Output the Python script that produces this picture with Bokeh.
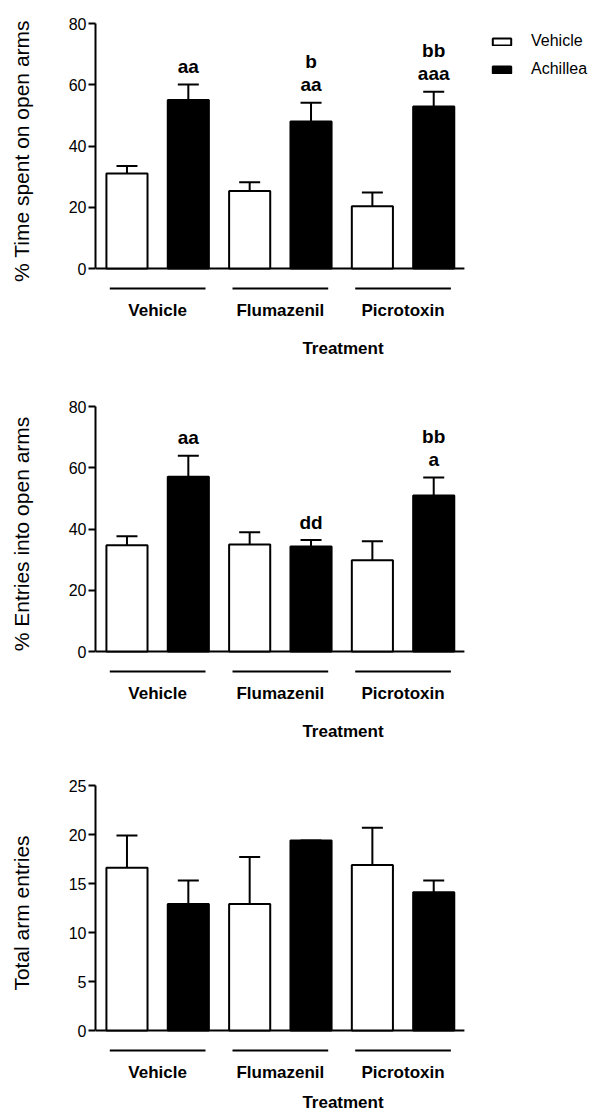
from bokeh.plotting import figure
from bokeh.models import ColumnDataSource, FixedTicker, Whisker, TeeHead, Range1d
from bokeh.layouts import column
from bokeh.embed import file_html
from bokeh.resources import INLINE
from bokeh.core.properties import value

# ---------------- data ----------------
groups = ["Vehicle", "Flumazenil", "Picrotoxin"]
series = ["Vehicle", "Achillea"]
x_title = "Treatment"

time_title = "% Time spent on open arms"
time_vehicle = [31.0, 25.3, 20.3]
time_vehicle_sem = [2.5, 2.9, 4.5]
time_achillea = [55.0, 48.0, 52.9]
time_achillea_sem = [5.1, 6.1, 4.8]
time_marks = [["aa"], ["aa", "b"], ["aaa", "bb"]]
time_ticks = [0, 20, 40, 60, 80]

entries_title = "% Entries into open arms"
entries_vehicle = [34.7, 34.9, 29.8]
entries_vehicle_sem = [2.9, 4.0, 6.2]
entries_achillea = [57.1, 34.3, 50.9]
entries_achillea_sem = [6.8, 2.1, 5.9]
entries_marks = [["aa"], ["dd"], ["a", "bb"]]
entries_ticks = [0, 20, 40, 60, 80]

total_title = "Total arm entries"
total_vehicle = [16.6, 12.9, 16.9]
total_vehicle_sem = [3.3, 4.8, 3.8]
total_achillea = [12.9, 19.4, 14.1]
total_achillea_sem = [2.4, 0.0, 1.2]
total_marks = [[], [], []]
total_ticks = [0, 5, 10, 15, 20, 25]

FONT = value("Liberation Sans")
BAR_W = 0.67
AXIS_PX = 245          # pixel length of the y axis
TOP_PAD = 16           # frame top to top tick
BOTTOM_PAD = 26        # zero line to frame bottom
FRAME_H = TOP_PAD + AXIS_PX + BOTTOM_PAD
LEFT = 95
WIDTH = 590


def panel(title, veh, veh_sem, ach, ach_sem, marks, ticks, height, top, legend, title_standoff):
    ymax = ticks[-1]
    ppu = AXIS_PX / ymax
    y0 = -BOTTOM_PAD / ppu
    y1 = ymax + TOP_PAD / ppu
    # ~61.35 px per x unit ; frame starts at x=-0.513
    x_start = -0.513
    x_end = x_start + (WIDTH - LEFT) / 61.35

    p = figure(width=WIDTH, height=height, output_backend="svg", toolbar_location=None,
               x_range=Range1d(x_start, x_end), y_range=Range1d(y0, y1),
               min_border_left=LEFT, min_border_right=0, min_border_top=top,
               min_border_bottom=height - FRAME_H - top)
    p.outline_line_color = None
    p.grid.visible = False
    p.background_fill_color = "white"

    n = len(groups)
    xs_v = [2 * i for i in range(n)]
    xs_a = [2 * i + 1 for i in range(n)]
    centers = [2 * i + 0.5 for i in range(n)]

    # baseline along y = 0
    p.segment(x0=[x_start], y0=[0], x1=[xs_a[-1] + 0.5], y1=[0],
              line_color="black", line_width=2)

    src_v = ColumnDataSource(dict(x=xs_v, top=veh, upper=[m + s for m, s in zip(veh, veh_sem)]))
    src_a = ColumnDataSource(dict(x=xs_a, top=ach, upper=[m + s for m, s in zip(ach, ach_sem)]))

    kw_v = dict(legend_label=series[0]) if legend else {}
    kw_a = dict(legend_label=series[1]) if legend else {}
    p.vbar(x="x", top="top", bottom=0, width=BAR_W, source=src_v,
           fill_color="white", line_color="black", line_width=2, **kw_v)
    p.vbar(x="x", top="top", bottom=0, width=BAR_W, source=src_a,
           fill_color="black", line_color="black", line_width=2, **kw_a)

    for src in (src_v, src_a):
        w = Whisker(base="x", lower="top", upper="upper", source=src,
                    upper_head=TeeHead(size=21, line_width=2, line_color="black"),
                    lower_head=None, line_width=2, line_color="black")
        p.add_layout(w)

    # significance marks above the Achillea bars
    mx, my, mt, mo = [], [], [], []
    for i, lines in enumerate(marks):
        for k, t in enumerate(lines):
            mx.append(xs_a[i])
            my.append(ach[i] + ach_sem[i])
            mt.append(t)
            mo.append(-(18 + 23 * k))
    if mt:
        p.text(x="x", y="y", text="text", y_offset="yo",
               source=ColumnDataSource(dict(x=mx, y=my, text=mt, yo=mo)),
               text_align="center", text_baseline="middle", text_font=FONT,
               text_font_style="bold", text_font_size="19px", text_color="black")

    # group lines under the axis
    gy = -20 / ppu
    p.segment(x0=[c - 0.78 for c in centers], y0=[gy] * n,
              x1=[c + 0.78 for c in centers], y1=[gy] * n,
              line_color="black", line_width=2)

    # y axis
    ya = p.yaxis[0]
    ya.bounds = (0, ymax)
    ya.ticker = FixedTicker(ticks=ticks)
    ya.minor_tick_line_color = None
    ya.major_tick_in = 0
    ya.major_tick_out = 7
    ya.major_tick_line_width = 2
    ya.axis_line_width = 2
    ya.major_label_standoff = 2
    ya.major_label_text_font = "Liberation Sans"
    ya.major_label_text_font_size = "16px"
    ya.major_label_text_color = "black"
    ya.axis_label = title
    ya.axis_label_text_font = "Liberation Sans"
    ya.axis_label_text_font_size = "21px"
    ya.axis_label_text_font_style = "normal"
    ya.axis_label_text_color = "black"
    ya.axis_label_standoff = 33

    # x axis (group names + title)
    xa = p.xaxis[0]
    xa.ticker = FixedTicker(ticks=centers)
    xa.major_label_overrides = {c: g for c, g in zip(centers, groups)}
    xa.axis_line_color = None
    xa.major_tick_line_color = None
    xa.minor_tick_line_color = None
    xa.major_tick_out = 0
    xa.major_tick_in = 0
    xa.major_label_standoff = 6
    xa.major_label_text_font = "Liberation Sans"
    xa.major_label_text_font_style = "bold"
    xa.major_label_text_font_size = "17px"
    xa.major_label_text_color = "black"
    xa.axis_label = x_title
    xa.axis_label_text_font = "Liberation Sans"
    xa.axis_label_text_font_style = "bold"
    xa.axis_label_text_font_size = "17px"
    xa.axis_label_text_color = "black"
    xa.axis_label_standoff = title_standoff

    if legend:
        lg = p.legend[0]
        lg.location = (395, FRAME_H - 78 + 6)
        lg.padding = 0
        lg.margin = 0
        lg.spacing = 8
        lg.border_line_color = None
        lg.background_fill_alpha = 0
        lg.glyph_width = 23
        lg.glyph_height = 9
        lg.label_height = 20
        lg.label_standoff = 18
        lg.label_text_font = "Liberation Sans"
        lg.label_text_font_size = "16px"
        lg.label_text_color = "black"
    return p


p1 = panel(time_title, time_vehicle, time_vehicle_sem, time_achillea, time_achillea_sem,
           time_marks, time_ticks, 390, 7, True, 16)
p2 = panel(entries_title, entries_vehicle, entries_vehicle_sem, entries_achillea, entries_achillea_sem,
           entries_marks, entries_ticks, 379, 0, False, 16)
p3 = panel(total_title, total_vehicle, total_vehicle_sem, total_achillea, total_achillea_sem,
           total_marks, total_ticks, 347, 0, False, 8)

layout = column(p1, p2, p3, spacing=0)
open("out.html", "w").write(file_html(layout, INLINE))
